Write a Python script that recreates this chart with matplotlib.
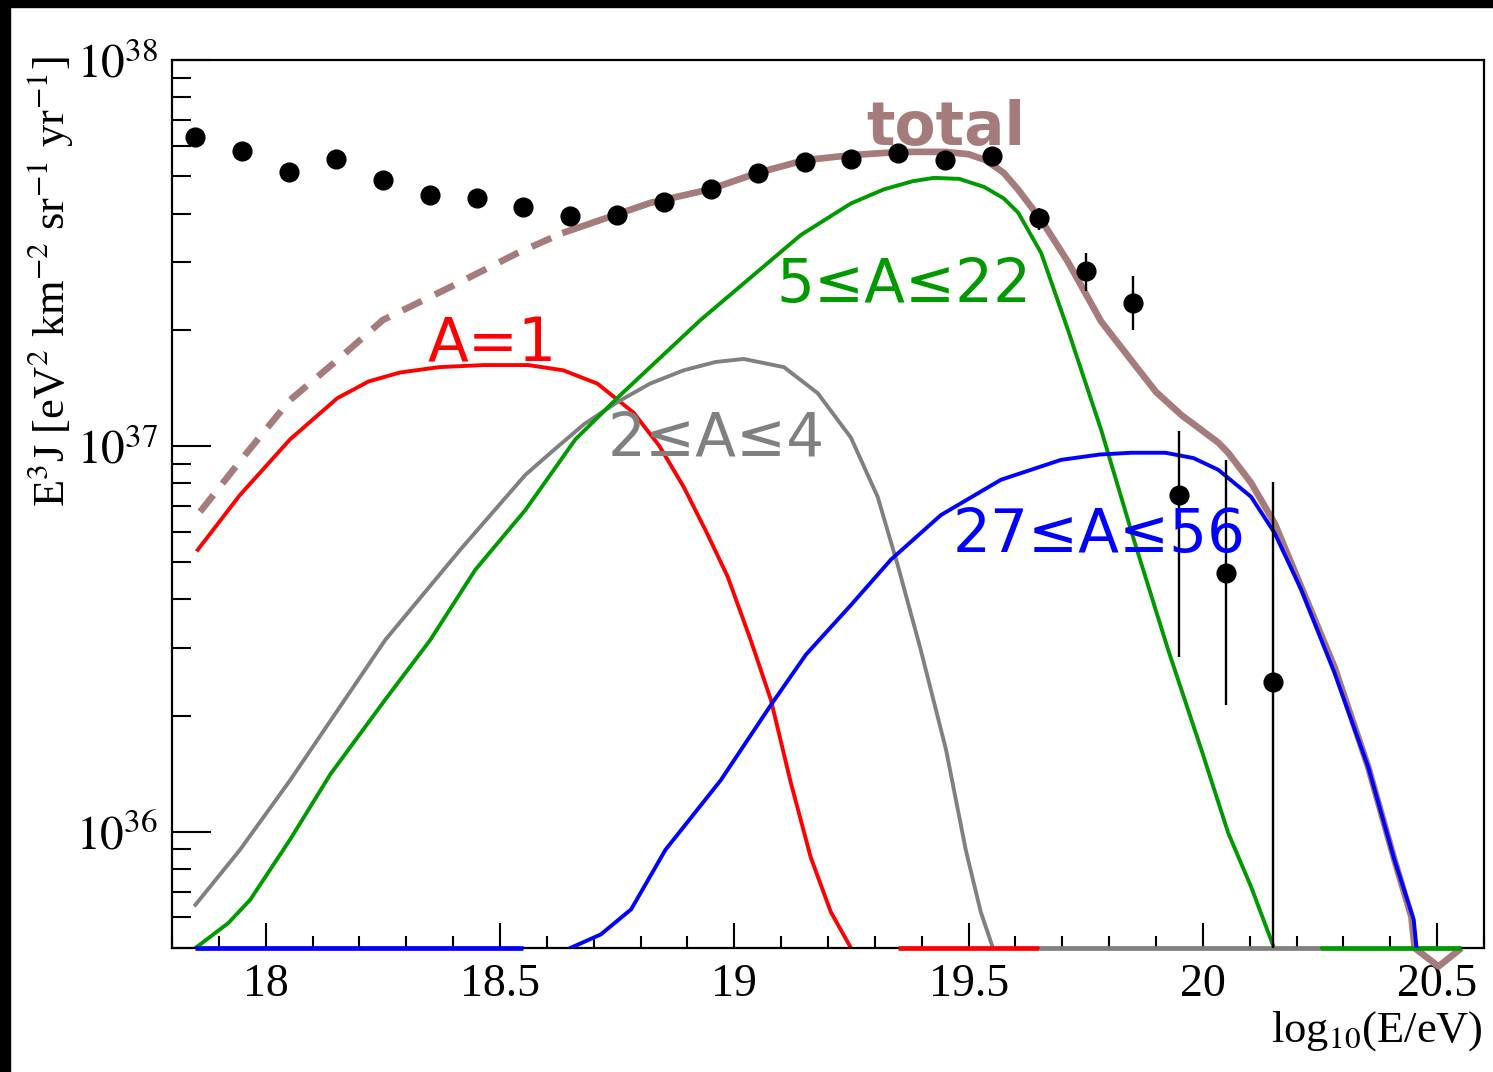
import numpy as np
import matplotlib
matplotlib.use("Agg")
import matplotlib.pyplot as plt
from matplotlib.patches import Rectangle

plt.rcParams['mathtext.fontset'] = 'stix'

# measured spectrum (E^3 J)
data_x = [17.85, 17.95, 18.05, 18.15, 18.25, 18.35, 18.45, 18.55, 18.65, 18.75,
          18.85, 18.95, 19.05, 19.15, 19.25, 19.35, 19.45, 19.55, 19.65, 19.75,
          19.85, 19.95, 20.05, 20.15]
data_y = [6.31e37, 5.81e37, 5.13e37, 5.54e37, 4.89e37, 4.47e37, 4.39e37, 4.16e37, 3.94e37, 3.97e37,
          4.29e37, 4.63e37, 5.10e37, 5.44e37, 5.54e37, 5.74e37, 5.51e37, 5.64e37, 3.90e37, 2.84e37,
          2.35e37, 7.46e36, 4.69e36, 2.45e36]
data_hi = [6.31e37, 5.81e37, 5.13e37, 5.54e37, 4.89e37, 4.47e37, 4.39e37, 4.16e37, 3.94e37, 3.97e37,
           4.29e37, 4.63e37, 5.10e37, 5.44e37, 5.54e37, 5.74e37, 5.51e37, 5.64e37, 4.14e37, 3.16e37,
           2.76e37, 1.09e37, 9.2e36, 8.07e36]
data_lo = [6.31e37, 5.81e37, 5.13e37, 5.54e37, 4.89e37, 4.47e37, 4.39e37, 4.16e37, 3.94e37, 3.97e37,
           4.29e37, 4.63e37, 5.10e37, 5.44e37, 5.54e37, 5.74e37, 5.51e37, 5.64e37, 3.63e37, 2.52e37,
           2.0e37, 2.84e36, 2.13e36, 1e35]

# model components
p_x = [17.855, 17.945, 18.052, 18.153, 18.22, 18.287, 18.37, 18.465, 18.56, 18.635, 18.708,
       18.785, 18.84, 18.892, 18.94, 18.986, 19.035, 19.078, 19.12, 19.163, 19.206, 19.249]
p_y = [5.38e36, 7.46e36, 1.04e37, 1.33e37, 1.47e37, 1.55e37, 1.6e37, 1.62e37, 1.62e37, 1.57e37, 1.45e37,
       1.22e37, 1.0e37, 7.83e36, 6.0e36, 4.58e36, 3.14e36, 2.2e36, 1.35e36, 8.6e35, 6.2e35, 5.0e35]

he_x = [17.85, 17.945, 18.052, 18.255, 18.415, 18.554, 18.608, 18.68, 18.751, 18.82, 18.892, 18.96,
        19.02, 19.106, 19.178, 19.249, 19.306, 19.349, 19.398, 19.452, 19.494, 19.526, 19.552]
he_y = [6.47e35, 8.98e35, 1.36e36, 3.14e36, 5.38e36, 8.41e36, 9.6e36, 1.14e37, 1.3e37, 1.45e37, 1.57e37, 1.65e37,
        1.68e37, 1.6e37, 1.37e37, 1.05e37, 7.38e36, 4.9e36, 2.96e36, 1.63e36, 8.98e35, 6.2e35, 5.0e35]

cno_x = [17.85, 17.92, 17.967, 18.052, 18.138, 18.255, 18.351, 18.447, 18.554, 18.661, 18.757,
         18.928, 19.142, 19.249, 19.319, 19.38, 19.426, 19.48, 19.533, 19.575, 19.606, 19.655, 19.712,
         19.783, 19.853, 19.926, 19.997, 20.054, 20.103, 20.152]
cno_y = [5.0e35, 5.8e35, 6.67e35, 9.55e35, 1.41e36, 2.2e36, 3.14e36, 4.77e36, 6.82e36, 1.04e37, 1.355e37,
         2.12e37, 3.52e37, 4.25e37, 4.62e37, 4.85e37, 4.95e37, 4.92e37, 4.69e37, 4.38e37, 4.02e37, 3.16e37, 2.0e37,
         1.1e37, 5.7e36, 2.96e36, 1.63e36, 9.94e35, 7.2e35, 5.0e35]

fe_x = [18.65, 18.715, 18.78, 18.853, 18.971, 19.078, 19.153, 19.249, 19.334, 19.441,
        19.569, 19.697, 19.78, 19.847, 19.92, 19.98, 20.033, 20.103, 20.153, 20.21, 20.281, 20.353,
        20.409, 20.45, 20.456]
fe_y = [5.0e35, 5.42e35, 6.3e35, 8.98e35, 1.36e36, 2.13e36, 2.88e36, 3.87e36, 5.07e36, 6.62e36,
        8.17e36, 9.2e36, 9.5e36, 9.6e36, 9.6e36, 9.3e36, 8.67e36, 7.38e36, 5.95e36, 4.24e36, 2.58e36, 1.47e36,
        8.45e35, 5.92e35, 5.0e35]

tot_dash_x = [17.86, 17.956, 18.052, 18.153, 18.25, 18.394, 18.537, 18.633]
tot_dash_y = [6.75e36, 9.48e36, 1.315e37, 1.67e37, 2.12e37, 2.58e37, 3.16e37, 3.56e37]
tot_x = [18.633, 18.82, 18.95, 19.05, 19.15, 19.25, 19.355, 19.45, 19.5, 19.537, 19.575, 19.606,
         19.655, 19.712, 19.783, 19.85, 19.9, 19.955, 20.033, 20.054, 20.103, 20.153,
         20.21, 20.281, 20.353, 20.409, 20.445, 20.452, 20.503, 20.552]
tot_y = [3.56e37, 4.26e37, 4.63e37, 5.1e37, 5.5e37, 5.67e37, 5.78e37, 5.78e37, 5.7e37, 5.5e37, 5.1e37, 4.61e37,
         3.85e37, 3.0e37, 2.1e37, 1.65e37, 1.38e37, 1.2e37, 1.02e37, 9.6e36, 8.02e36, 6.31e36,
         4.31e36, 2.67e36, 1.47e36, 8.45e35, 6.03e35, 5.0e35, 4.48e35, 5.0e35]

# ranges where a component is zero (drawn on the frame floor)
fe_floor = [17.85, 18.55]
p_floor = [19.35, 19.65]
he_floor = [19.65, 20.25]
cno_floor = [20.25, 20.55]

ymin, ymax = 5e35, 1e38
c_tot = '#a67b7b'
c_p, c_he, c_cno, c_fe = '#ff0000', '#808080', '#009900', '#0000ff'

fig = plt.figure(figsize=(14.93, 10.72), dpi=100)
ax = fig.add_axes([172/1493, 1-948/1072, (1484-172)/1493, (948-60)/1072])
ax.set_yscale('log')
ax.set_xlim(17.8, 20.6)
ax.set_ylim(ymin, ymax)

lw = 2.8
ax.plot(p_x, p_y, color=c_p, lw=lw)
ax.plot(he_x, he_y, color=c_he, lw=lw)
ax.plot(cno_x, cno_y, color=c_cno, lw=lw)
for fl, c in [(fe_floor, c_fe), (p_floor, c_p), (he_floor, c_he), (cno_floor, c_cno)]:
    ax.plot(fl, [ymin, ymin], color=c, lw=lw + 0.6, clip_on=False, zorder=3, solid_capstyle='butt')
ax.plot(tot_dash_x, tot_dash_y, color=c_tot, lw=4.8, dashes=(3.2, 2.2))
ax.plot(tot_x, tot_y, color=c_tot, lw=4.8, clip_on=False, solid_capstyle='butt', solid_joinstyle='round')
ax.plot(fe_x, fe_y, color=c_fe, lw=lw, zorder=3.2)

dy = np.array(data_y)
err = [dy - np.array(data_lo), np.array(data_hi) - dy]
ax.errorbar(data_x, data_y, yerr=err, fmt='o', color='black', ms=13.5, elinewidth=1.7, capsize=0, zorder=4)

sans = dict(family='DejaVu Sans', fontsize=43)
fig.text(946/1493, 1-145/1072, 'total', color=c_tot, fontweight='bold', ha='center', va='baseline', **sans)
fig.text(428/1493, 1-362/1072, 'A=1', color=c_p, ha='left', va='baseline', **sans)
fig.text(776/1493, 1-302/1072, '5≤A≤22', color=c_cno, ha='left', va='baseline', **sans)
fig.text(608/1493, 1-455/1072, '2≤A≤4', color=c_he, ha='left', va='baseline', **sans)
fig.text(953/1493, 1-552/1072, '27≤A≤56', color=c_fe, ha='left', va='baseline', **sans)

# frame and ticks
for s in ax.spines.values():
    s.set_linewidth(1.6)
ax.set_xticks([18, 18.5, 19, 19.5, 20, 20.5])
ax.set_xticklabels(['18', '18.5', '19', '19.5', '20', '20.5'])
ax.set_xticks(np.arange(17.8, 20.61, 0.1), minor=True)
ax.tick_params(axis='x', which='major', direction='in', length=18, width=1.5, pad=11, top=False)
ax.tick_params(axis='x', which='minor', direction='in', length=9, width=1.5, top=False)
ax.tick_params(axis='y', which='major', direction='in', length=28, width=1.5, pad=10, right=False)
ax.tick_params(axis='y', which='minor', direction='in', length=14, width=1.5, right=False)
ax.set_yticks([1e36, 1e37, 1e38])
ax.set_yticklabels(['$10^{36}$', '$10^{37}$', '$10^{38}$'])
for lab in ax.get_xticklabels():
    lab.set_fontfamily('Liberation Serif')
    lab.set_fontsize(33)
for lab in ax.get_yticklabels():
    lab.set_fontsize(34)

fig.text(1483/1493, 1-1042/1072, r'log$_{\mathrm{10}}$(E/eV)', family='Liberation Serif', fontsize=32,
         ha='right', va='baseline')
fig.text(50/1493, 1-56/1072, 'E$^{3}$J [eV$^{2}$ km$^{-2}$ sr$^{-1}$ yr$^{-1}$]', family='Liberation Serif',
         fontsize=32, rotation=90, ha='center', va='top')

# black border strips of the screenshot
fig.patches.append(Rectangle((0, 1-7/1072), 1, 7/1072, transform=fig.transFigure, color='black'))
fig.patches.append(Rectangle((0, 0), 10/1493, 1, transform=fig.transFigure, color='black'))

fig.savefig('out.png', dpi=100)
